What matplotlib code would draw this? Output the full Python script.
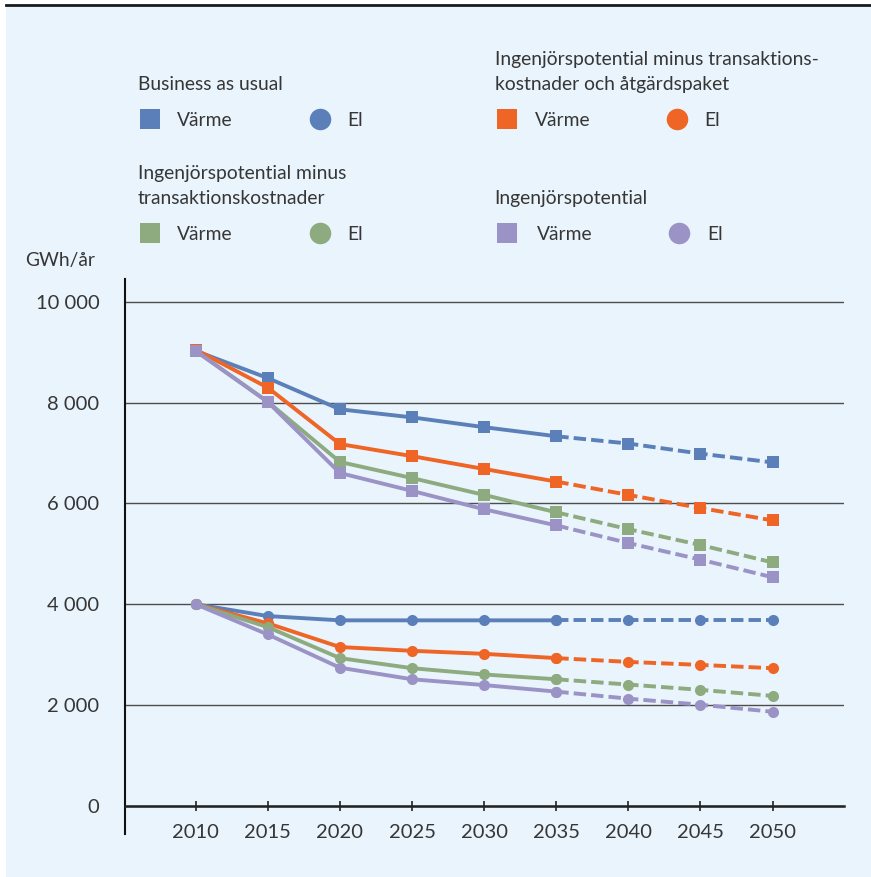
import matplotlib
matplotlib.use("Agg")
from matplotlib import pyplot as plt
from matplotlib.patches import Rectangle
from matplotlib.lines import Line2D
import numpy as np

plt.rcParams['font.family'] = ['Lato', 'DejaVu Sans']

years = [2010, 2015, 2020, 2025, 2030, 2035, 2040, 2045, 2050]

# GWh/år, värme
varme_bau = [9030, 8490, 7870, 7710, 7515, 7335, 7190, 6990, 6815]
varme_ing_tk_ap = [9055, 8300, 7180, 6940, 6685, 6435, 6170, 5910, 5665]
varme_ing_tk = [9030, 8020, 6825, 6505, 6170, 5825, 5490, 5175, 4830]
varme_ing = [9030, 8015, 6605, 6250, 5885, 5565, 5215, 4885, 4535]

# GWh/år, el
el_bau = [4000, 3765, 3680, 3680, 3680, 3680, 3680, 3680, 3680]
el_ing_tk_ap = [4000, 3620, 3150, 3075, 3015, 2930, 2855, 2795, 2730]
el_ing_tk = [4000, 3545, 2930, 2730, 2605, 2510, 2405, 2300, 2180]
el_ing = [4000, 3400, 2740, 2510, 2395, 2265, 2125, 2005, 1865]

yticks = [0, 2000, 4000, 6000, 8000, 10000]
ytick_labels = ['0', '2 000', '4 000', '6 000', '8 000', '10 000']

c_bau = '#5b80b9'
c_ap = '#ee6526'
c_tk = '#8dab7f'
c_ing = '#9b93c5'
bg = '#e9f4fc'
txt = '#363636'

W, H = 871, 877
fig = plt.figure(figsize=(W / 100, H / 100), dpi=100)
fig.patch.set_facecolor('white')
fig.add_artist(Rectangle((6 / W, 0), 1 - 6 / W, 1 - 6 / H, transform=fig.transFigure,
                         facecolor=bg, edgecolor='none', zorder=-10))
fig.add_artist(Line2D([6 / W, 1], [1 - 5 / H, 1 - 5 / H], transform=fig.transFigure,
                      color='#1a1a1a', lw=2))

ax = fig.add_axes([125 / W, 43 / H, 719 / W, 555 / H])
ax.set_facecolor('none')
ax.set_xlim(2005.1, 2054.95)
ax.set_ylim(-562, 10457)

series = [
    (varme_bau, c_bau, 's'), (el_bau, c_bau, 'o'),
    (varme_ing_tk_ap, c_ap, 's'), (el_ing_tk_ap, c_ap, 'o'),
    (varme_ing_tk, c_tk, 's'), (el_ing_tk, c_tk, 'o'),
    (varme_ing, c_ing, 's'), (el_ing, c_ing, 'o'),
]
z = 3
for vals, col, mk in series:
    ms = 8.3 if mk == 's' else 8.0
    # solid fram till 2035, streckat därefter
    ax.plot(years[:6], vals[:6], color=col, lw=2.8, marker=mk, ms=ms, mew=0, zorder=z)
    ax.plot(years[5:], vals[5:], color=col, lw=2.8, ls=(0, (3.2, 1.3)), marker=mk, ms=ms,
            mew=0, zorder=z)
    z += 0.1

ax.set_yticks(yticks)
ax.set_yticklabels(ytick_labels)
ax.set_xticks(years)
ax.yaxis.grid(True, color='#4d4d4d', lw=1.0, zorder=1)
ax.set_axisbelow(True)

for s in ['top', 'right']:
    ax.spines[s].set_visible(False)
ax.spines['bottom'].set_position(('data', 0))
ax.spines['bottom'].set_color('#222222')
ax.spines['bottom'].set_linewidth(1.8)
ax.spines['left'].set_color('#111111')
ax.spines['left'].set_linewidth(1.5)
ax.tick_params(axis='y', length=0, pad=18.5, labelsize=14.5, labelcolor=txt)
ax.tick_params(axis='x', direction='inout', length=7, width=1.2, color='#222222',
               pad=10, labelsize=14.5, labelcolor=txt)

# teckenförklaring och enhet i pixelkoordinater
lg = fig.add_axes([0, 0, 1, 1], zorder=5)
lg.set_xlim(0, W)
lg.set_ylim(H, 0)
lg.axis('off')

def head(x, y, s):
    lg.text(x, y, s, fontsize=13.9, color=txt, va='baseline', ha='left')

def row(xsq, xv, xc, xe, y, col):
    lg.plot([xsq], [y - 7], marker='s', ms=15, mew=0, color=col)
    lg.plot([xc], [y - 7], marker='o', ms=15.5, mew=0, color=col)
    head(xv, y, 'Värme')
    head(xe, y, 'El')

head(137.5, 90, 'Business as usual')
row(149.5, 177, 320, 347, 125.5, c_bau)
head(494.5, 65, 'Ingenjörspotential minus transaktions-')
head(494.5, 90, 'kostnader och åtgärdspaket')
row(506.5, 534.5, 677, 704.5, 125.5, c_ap)
head(137.5, 179.5, 'Ingenjörspotential minus')
head(137.5, 203.5, 'transaktionskostnader')
row(149.5, 177, 320, 347, 239.5, c_tk)
head(494.5, 204, 'Ingenjörspotential')
row(506.5, 537, 679, 707, 239.5, c_ing)
head(25, 266, 'GWh/år')

fig.savefig('out.png', dpi=100, facecolor=fig.get_facecolor())
